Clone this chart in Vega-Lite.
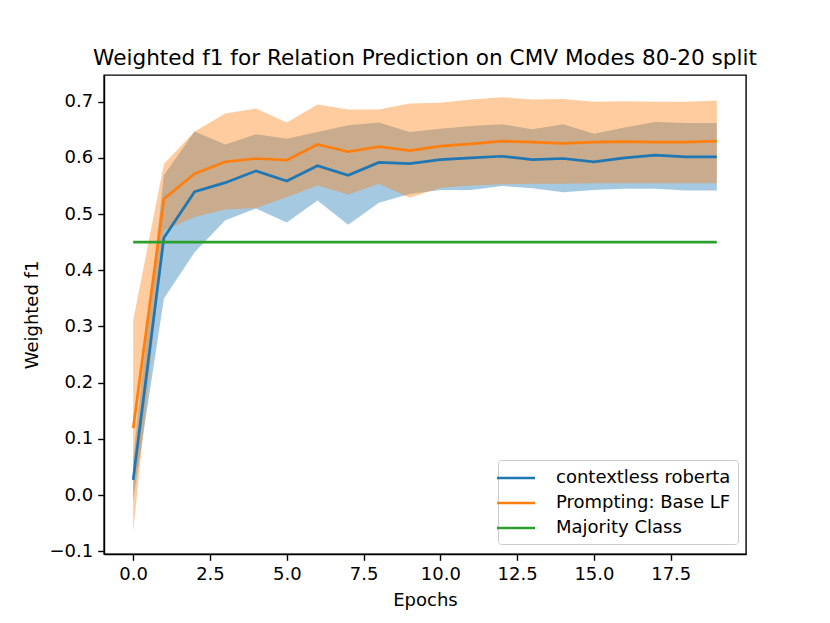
{
  "$schema": "https://vega.github.io/schema/vega-lite/v6.json",
  "width": 642,
  "height": 479,
  "autosize": "none",
  "padding": {"left": 104, "top": 75, "right": 84, "bottom": 69},
  "background": "white",
  "config": {
    "font": "DejaVu Sans",
    "view": {"stroke": "black", "strokeWidth": 1.4},
    "axis": {
      "grid": false,
      "domainColor": "black",
      "domainWidth": 1.4,
      "tickColor": "black",
      "tickWidth": 1.4,
      "tickSize": 6.3,
      "labelPadding": 5,
      "labelFontSize": 18,
      "labelColor": "black",
      "labelFont": "DejaVu Sans",
      "titleFont": "DejaVu Sans",
      "titleFontSize": 18,
      "titleFontWeight": "normal",
      "titleColor": "black"
    }
  },
  "title": {
    "text": "Weighted f1 for Relation Prediction on CMV Modes 80-20 split",
    "fontSize": 21.6,
    "fontWeight": "normal",
    "font": "DejaVu Sans",
    "color": "black",
    "anchor": "middle",
    "offset": 5
  },
  "data": {
    "values": [
      {"epoch": 0, "model": "contextless roberta", "f1": 0.027, "lo": -0.01, "hi": 0.065},
      {"epoch": 1, "model": "contextless roberta", "f1": 0.458, "lo": 0.350, "hi": 0.569},
      {"epoch": 2, "model": "contextless roberta", "f1": 0.540, "lo": 0.432, "hi": 0.647},
      {"epoch": 3, "model": "contextless roberta", "f1": 0.556, "lo": 0.489, "hi": 0.624},
      {"epoch": 4, "model": "contextless roberta", "f1": 0.577, "lo": 0.510, "hi": 0.642},
      {"epoch": 5, "model": "contextless roberta", "f1": 0.559, "lo": 0.485, "hi": 0.634},
      {"epoch": 6, "model": "contextless roberta", "f1": 0.586, "lo": 0.524, "hi": 0.646},
      {"epoch": 7, "model": "contextless roberta", "f1": 0.569, "lo": 0.481, "hi": 0.658},
      {"epoch": 8, "model": "contextless roberta", "f1": 0.592, "lo": 0.520, "hi": 0.663},
      {"epoch": 9, "model": "contextless roberta", "f1": 0.590, "lo": 0.536, "hi": 0.646},
      {"epoch": 10, "model": "contextless roberta", "f1": 0.597, "lo": 0.543, "hi": 0.652},
      {"epoch": 11, "model": "contextless roberta", "f1": 0.600, "lo": 0.543, "hi": 0.657},
      {"epoch": 12, "model": "contextless roberta", "f1": 0.603, "lo": 0.550, "hi": 0.660},
      {"epoch": 13, "model": "contextless roberta", "f1": 0.597, "lo": 0.546, "hi": 0.651},
      {"epoch": 14, "model": "contextless roberta", "f1": 0.599, "lo": 0.539, "hi": 0.660},
      {"epoch": 15, "model": "contextless roberta", "f1": 0.593, "lo": 0.543, "hi": 0.643},
      {"epoch": 16, "model": "contextless roberta", "f1": 0.600, "lo": 0.545, "hi": 0.654},
      {"epoch": 17, "model": "contextless roberta", "f1": 0.605, "lo": 0.545, "hi": 0.664},
      {"epoch": 18, "model": "contextless roberta", "f1": 0.602, "lo": 0.542, "hi": 0.662},
      {"epoch": 19, "model": "contextless roberta", "f1": 0.602, "lo": 0.542, "hi": 0.662},
      {"epoch": 0, "model": "Prompting: Base LF", "f1": 0.119, "lo": -0.066, "hi": 0.311},
      {"epoch": 1, "model": "Prompting: Base LF", "f1": 0.527, "lo": 0.471, "hi": 0.589},
      {"epoch": 2, "model": "Prompting: Base LF", "f1": 0.572, "lo": 0.495, "hi": 0.647},
      {"epoch": 3, "model": "Prompting: Base LF", "f1": 0.593, "lo": 0.508, "hi": 0.679},
      {"epoch": 4, "model": "Prompting: Base LF", "f1": 0.599, "lo": 0.511, "hi": 0.688},
      {"epoch": 5, "model": "Prompting: Base LF", "f1": 0.596, "lo": 0.530, "hi": 0.663},
      {"epoch": 6, "model": "Prompting: Base LF", "f1": 0.624, "lo": 0.551, "hi": 0.695},
      {"epoch": 7, "model": "Prompting: Base LF", "f1": 0.611, "lo": 0.535, "hi": 0.686},
      {"epoch": 8, "model": "Prompting: Base LF", "f1": 0.620, "lo": 0.554, "hi": 0.686},
      {"epoch": 9, "model": "Prompting: Base LF", "f1": 0.613, "lo": 0.529, "hi": 0.697},
      {"epoch": 10, "model": "Prompting: Base LF", "f1": 0.621, "lo": 0.547, "hi": 0.698},
      {"epoch": 11, "model": "Prompting: Base LF", "f1": 0.625, "lo": 0.551, "hi": 0.704},
      {"epoch": 12, "model": "Prompting: Base LF", "f1": 0.630, "lo": 0.553, "hi": 0.708},
      {"epoch": 13, "model": "Prompting: Base LF", "f1": 0.628, "lo": 0.554, "hi": 0.704},
      {"epoch": 14, "model": "Prompting: Base LF", "f1": 0.626, "lo": 0.554, "hi": 0.705},
      {"epoch": 15, "model": "Prompting: Base LF", "f1": 0.628, "lo": 0.555, "hi": 0.700},
      {"epoch": 16, "model": "Prompting: Base LF", "f1": 0.629, "lo": 0.555, "hi": 0.701},
      {"epoch": 17, "model": "Prompting: Base LF", "f1": 0.628, "lo": 0.555, "hi": 0.700},
      {"epoch": 18, "model": "Prompting: Base LF", "f1": 0.628, "lo": 0.555, "hi": 0.700},
      {"epoch": 19, "model": "Prompting: Base LF", "f1": 0.630, "lo": 0.555, "hi": 0.702},
      {"epoch": 0, "model": "Majority Class", "f1": 0.45},
      {"epoch": 1, "model": "Majority Class", "f1": 0.45},
      {"epoch": 2, "model": "Majority Class", "f1": 0.45},
      {"epoch": 3, "model": "Majority Class", "f1": 0.45},
      {"epoch": 4, "model": "Majority Class", "f1": 0.45},
      {"epoch": 5, "model": "Majority Class", "f1": 0.45},
      {"epoch": 6, "model": "Majority Class", "f1": 0.45},
      {"epoch": 7, "model": "Majority Class", "f1": 0.45},
      {"epoch": 8, "model": "Majority Class", "f1": 0.45},
      {"epoch": 9, "model": "Majority Class", "f1": 0.45},
      {"epoch": 10, "model": "Majority Class", "f1": 0.45},
      {"epoch": 11, "model": "Majority Class", "f1": 0.45},
      {"epoch": 12, "model": "Majority Class", "f1": 0.45},
      {"epoch": 13, "model": "Majority Class", "f1": 0.45},
      {"epoch": 14, "model": "Majority Class", "f1": 0.45},
      {"epoch": 15, "model": "Majority Class", "f1": 0.45},
      {"epoch": 16, "model": "Majority Class", "f1": 0.45},
      {"epoch": 17, "model": "Majority Class", "f1": 0.45},
      {"epoch": 18, "model": "Majority Class", "f1": 0.45},
      {"epoch": 19, "model": "Majority Class", "f1": 0.45}
    ]
  },
  "encoding": {
    "x": {
      "field": "epoch",
      "type": "quantitative",
      "scale": {"domain": [-0.95, 19.95], "nice": false, "zero": false},
      "axis": {"title": "Epochs", "values": [0, 2.5, 5, 7.5, 10, 12.5, 15, 17.5], "format": ".1f", "titlePadding": 8}
    }
  },
  "layer": [
    {
      "transform": [{"filter": "datum.model === 'contextless roberta'"}],
      "mark": {"type": "area", "color": "#1f77b4", "opacity": 0.4},
      "encoding": {
        "y": {"field": "lo", "type": "quantitative", "scale": {"domain": [-0.105, 0.7476], "nice": false, "zero": false}},
        "y2": {"field": "hi"}
      }
    },
    {
      "transform": [{"filter": "datum.model === 'Prompting: Base LF'"}],
      "mark": {"type": "area", "color": "#ff7f0e", "opacity": 0.4},
      "encoding": {
        "y": {"field": "lo", "type": "quantitative"},
        "y2": {"field": "hi"}
      }
    },
    {
      "mark": {"type": "line", "strokeWidth": 2.7},
      "encoding": {
        "y": {
          "field": "f1",
          "type": "quantitative",
          "axis": {
            "title": "Weighted f1",
            "values": [-0.1, 0, 0.1, 0.2, 0.3, 0.4, 0.5, 0.6, 0.7],
            "format": ".1f",
            "labelExpr": "replace(datum.label, '-', '\u2212')",
            "titlePadding": 7
          }
        },
        "stroke": {
          "field": "model",
          "type": "nominal",
          "scale": {
            "domain": ["contextless roberta", "Prompting: Base LF", "Majority Class"],
            "range": ["#1f77b4", "#ff7f0e", "#2ca02c"]
          },
          "legend": {
            "title": null,
            "orient": "none",
            "legendX": 394,
            "legendY": 385,
            "symbolType": "M-2,0H2",
            "symbolSize": 361,
            "symbolStrokeWidth": 2.7,
            "labelFontSize": 18,
            "labelFont": "DejaVu Sans",
            "labelColor": "black",
            "labelOffset": 29,
            "labelLimit": 400,
            "rowPadding": 5,
            "padding": 7,
            "strokeColor": "#cccccc",
            "fillColor": "white",
            "cornerRadius": 3
          }
        }
      }
    }
  ]
}
